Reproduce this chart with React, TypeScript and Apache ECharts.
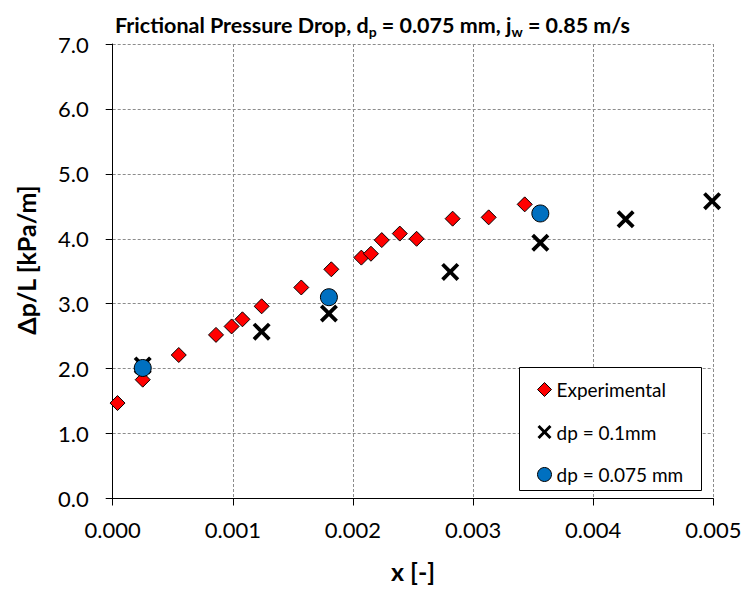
import React, { useEffect, useRef } from "react";
import * as echarts from "echarts";

const expX = [0.00004, 0.00025, 0.00055, 0.00086, 0.00099, 0.00108, 0.00124, 0.00157, 0.00182, 0.00207, 0.00215, 0.00224, 0.00239, 0.00253, 0.00283, 0.00313, 0.00343];
const expY = [1.47, 1.83, 2.21, 2.52, 2.65, 2.76, 2.96, 3.25, 3.53, 3.71, 3.77, 3.98, 4.08, 4.0, 4.31, 4.33, 4.53];
const dp01X = [0.00025, 0.00124, 0.0018, 0.00281, 0.00356, 0.00427, 0.00499];
const dp01Y = [2.05, 2.57, 2.85, 3.49, 3.94, 4.3, 4.58];
const dp075X = [0.00025, 0.0018, 0.00356];
const dp075Y = [2.01, 3.1, 4.39];
const seriesNames = ["Experimental", "dp = 0.1mm", "dp = 0.075 mm"];
const xTitle = "x [-]";
const yTitle = "Δp/L [kPa/m]";

const FONT = "Lato";
const X_PATH =
  "path://M0,3 L3,0 L10,7 L17,0 L20,3 L13,10 L20,17 L17,20 L10,13 L3,20 L0,17 L7,10 Z";

export default function App() {
  const ref = useRef<HTMLDivElement>(null);
  useEffect(() => {
    document.body.style.margin = "0";
    const chart = echarts.init(ref.current!, null, { renderer: "svg" });
    const zip = (xs: number[], ys: number[]) => xs.map((x, i) => [x, ys[i]]);
    chart.setOption({
      animation: false,
      backgroundColor: "#ffffff",
      textStyle: { fontFamily: FONT },
      title: {
        text: "Frictional Pressure Drop, d{sub|p} = 0.075 mm, j{sub|w} = 0.85 m/s",
        left: "center",
        top: 7,
        textStyle: {
          fontFamily: FONT,
          fontSize: 21.5,
          fontWeight: "bold",
          color: "#000",
          lineHeight: 26,
          rich: {
            sub: {
              fontFamily: FONT,
              fontSize: 14,
              fontWeight: "bold",
              color: "#000",
              lineHeight: 14,
              verticalAlign: "bottom",
            },
          },
        },
      },
      grid: { left: 112.7, right: 31.7, top: 44, bottom: 95.5 },
      xAxis: {
        type: "value",
        min: 0,
        max: 0.005,
        interval: 0.001,
        name: xTitle,
        nameLocation: "middle",
        nameGap: 60,
        nameTextStyle: { fontFamily: FONT, fontSize: 25, fontWeight: "bold", color: "#000" },
        axisLine: { show: true, onZero: false, lineStyle: { color: "#000", width: 1 } },
        axisTick: { show: true, length: 7, lineStyle: { color: "#000" } },
        axisLabel: {
          fontFamily: FONT,
          fontSize: 22,
          color: "#000",
          margin: 20,
          formatter: (v: number) => v.toFixed(3),
        },
        splitLine: { show: true, lineStyle: { color: "#8c8c8c", type: [3, 2], width: 1 } },
      },
      yAxis: {
        type: "value",
        min: 0,
        max: 7,
        interval: 1,
        axisLine: { show: true, onZero: false, lineStyle: { color: "#000", width: 1 } },
        axisTick: { show: true, length: 7, lineStyle: { color: "#000" } },
        axisLabel: {
          fontFamily: FONT,
          fontSize: 22,
          color: "#000",
          margin: 24,
          formatter: (v: number) => v.toFixed(1),
        },
        splitLine: { show: true, lineStyle: { color: "#8c8c8c", type: [3, 2], width: 1 } },
      },
      legend: {
        orient: "vertical",
        left: 537,
        top: 380,
        padding: 0,
        itemGap: 23.5,
        itemWidth: 14,
        itemHeight: 14,
        z: 10,
        textStyle: { fontFamily: FONT, fontSize: 19, color: "#000", lineHeight: 18 },
        data: [
          { name: seriesNames[0], icon: "diamond", itemStyle: { color: "#ff0000", borderColor: "#000", borderWidth: 1 } },
          { name: seriesNames[1], icon: X_PATH, itemStyle: { color: "#000", borderWidth: 0 } },
          { name: seriesNames[2], icon: "circle", itemStyle: { color: "#0070c0", borderColor: "#000", borderWidth: 1 } },
        ],
      },
      graphic: [
        {
          type: "rect",
          z: 5,
          shape: { x: 519.5, y: 367.5, width: 182, height: 123 },
          style: { fill: "#fff", stroke: "#000", lineWidth: 1 },
        },
        {
          type: "text",
          z: 5,
          x: 26,
          y: 260,
          rotation: Math.PI / 2,
          style: {
            text: yTitle,
            fontFamily: FONT,
            fontSize: 25,
            fontWeight: "bold",
            fill: "#000",
            align: "center",
            verticalAlign: "middle",
          },
        },
      ],
      series: [
        {
          name: seriesNames[0],
          type: "scatter",
          symbol: "diamond",
          symbolSize: [15, 15],
          itemStyle: { color: "#ff0000", borderColor: "#000", borderWidth: 1, opacity: 1 },
          data: zip(expX, expY),
          z: 2,
        },
        {
          name: seriesNames[1],
          type: "scatter",
          symbol: X_PATH,
          symbolSize: 18,
          itemStyle: { color: "#000", borderWidth: 0, opacity: 1 },
          data: zip(dp01X, dp01Y),
          z: 3,
        },
        {
          name: seriesNames[2],
          type: "scatter",
          symbol: "circle",
          symbolSize: 17,
          itemStyle: { color: "#0070c0", borderColor: "#000", borderWidth: 1, opacity: 1 },
          data: zip(dp075X, dp075Y),
          z: 4,
        },
      ],
    });
    return () => chart.dispose();
  }, []);
  return <div ref={ref} style={{ width: 745, height: 594 }} />;
}
